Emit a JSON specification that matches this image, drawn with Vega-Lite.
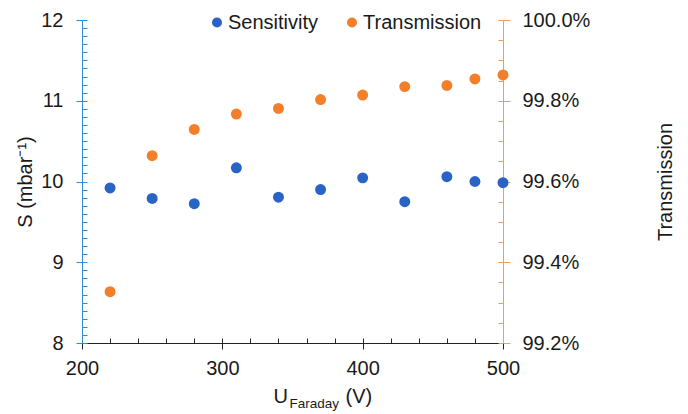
{
  "$schema": "https://vega.github.io/schema/vega-lite/v6.json",
  "autosize": {"type": "none"},
  "width": 421,
  "height": 323,
  "padding": {"left": 82, "top": 20, "right": 185, "bottom": 71},
  "background": "white",
  "config": {
    "font": "Liberation Sans",
    "view": {"stroke": null},
    "axis": {"grid": false, "labelFlush": false, "labelOverlap": false, "labelFontSize": 20, "labelColor": "#1a1a1a", "titleColor": "#1a1a1a", "titleFontWeight": "normal", "titleFontSize": 20, "labelFont": "Liberation Sans", "titleFont": "Liberation Sans"},
    "legend": {"labelFont": "Liberation Sans"}
  },
  "data": {
    "values": [
      {"U": 220, "S": 9.92, "T": 0.99327},
      {"U": 250, "S": 9.79, "T": 0.99664},
      {"U": 280, "S": 9.725, "T": 0.99729},
      {"U": 310, "S": 10.17, "T": 0.99767},
      {"U": 340, "S": 9.805, "T": 0.99781},
      {"U": 370, "S": 9.9, "T": 0.99803},
      {"U": 400, "S": 10.045, "T": 0.99814},
      {"U": 430, "S": 9.75, "T": 0.99835},
      {"U": 460, "S": 10.06, "T": 0.99838},
      {"U": 480, "S": 10.0, "T": 0.99854},
      {"U": 500, "S": 9.985, "T": 0.99864}
    ]
  },
  "layer": [
    {
      "mark": {"type": "point", "opacity": 0},
      "encoding": {
        "x": {"field": "U", "type": "quantitative", "scale": {"domain": [200, 500], "nice": false, "zero": false},
          "axis": {"orient": "bottom", "values": [200,220,240,260,280,300,320,340,360,380,400,420,440,460,480,500], "tickSize": -5, "tickColor": "#222", "labels": false, "domain": false,
            "title": "(V)", "titleX": 263, "titleY": 59, "titleAlign": "left", "titleBaseline": "alphabetic", "titleAnchor": null}},
        "y": {"field": "S", "type": "quantitative", "scale": {"domain": [8, 12], "nice": false, "zero": false},
          "axis": {"orient": "left", "values": [8,8.1,8.2,8.3,8.4,8.5,8.6,8.7,8.8,8.9,9,9.1,9.2,9.3,9.4,9.5,9.6,9.7,9.8,9.9,10,10.1,10.2,10.3,10.4,10.5,10.6,10.7,10.8,10.9,11,11.1,11.2,11.3,11.4,11.5,11.6,11.7,11.8,11.9,12], "tickSize": -5, "tickColor": "#2b8de0", "labels": false, "domain": false, "title": null}}
      }
    },
    {
      "mark": {"type": "point", "opacity": 0},
      "encoding": {
        "x": {"field": "U", "type": "quantitative", "scale": {"domain": [200, 500], "nice": false, "zero": false}, "axis": null},
        "y": {"field": "T", "type": "quantitative", "scale": {"domain": [0.992, 1.0], "nice": false, "zero": false},
          "axis": {"orient": "right", "values": [0.992,0.9925,0.993,0.9935,0.994,0.9945,0.995,0.9955,0.996,0.9965,0.997,0.9975,0.998,0.9985,0.999,0.9995,1.0], "tickSize": -5, "tickColor": "#f59b52", "labels": false, "domain": false, "title": null}}
      }
    },
    {
      "mark": {"type": "point", "filled": true, "size": 120, "opacity": 1},
      "encoding": {
        "x": {"field": "U", "type": "quantitative", "scale": {"domain": [200, 500], "nice": false, "zero": false},
          "axis": {"orient": "bottom", "values": [200, 300, 400, 500], "tickSize": 6, "tickColor": "#222", "domain": true, "domainColor": "#222", "domainWidth": 1, "labelPadding": 9,
            "title": "U", "titleX": 191, "titleY": 59, "titleAlign": "left", "titleBaseline": "alphabetic", "titleAnchor": null}},
        "y": {"field": "S", "type": "quantitative", "scale": {"domain": [8, 12], "nice": false, "zero": false},
          "axis": {"orient": "left", "values": [8, 9, 10, 11, 12], "tickSize": 6, "tickColor": "#2b8de0", "domainColor": "#2b8de0", "labelPadding": 13,
            "title": "S (mbar⁻¹)", "titleAngle": -90, "titleX": -57, "titleY": 161.5, "titleAlign": "center", "titleBaseline": "middle", "titleAnchor": null}},
        "color": {"datum": "Sensitivity", "type": "nominal",
          "scale": {"domain": ["Sensitivity", "Transmission"], "range": ["#2a63c6", "#f47f2a"]},
          "legend": {"orient": "none", "legendX": 125, "legendY": -7.5, "direction": "horizontal", "title": null, "labelFontSize": 20, "labelColor": "#1a1a1a",
            "symbolType": "circle", "symbolSize": 100, "symbolOpacity": 1, "symbolStrokeWidth": 0, "labelOffset": 1, "columnPadding": 23}}
      }
    },
    {
      "mark": {"type": "point", "filled": true, "size": 120, "opacity": 1},
      "encoding": {
        "x": {"field": "U", "type": "quantitative", "scale": {"domain": [200, 500], "nice": false, "zero": false},
          "axis": {"orient": "bottom", "labels": false, "ticks": false, "domain": false,
            "title": "Faraday", "titleFontSize": 13.5, "titleX": 207, "titleY": 64, "titleAlign": "left", "titleBaseline": "alphabetic", "titleAnchor": null}},
        "y": {"field": "T", "type": "quantitative", "scale": {"domain": [0.992, 1.0], "nice": false, "zero": false},
          "axis": {"orient": "right", "values": [0.992, 0.994, 0.996, 0.998, 1.0], "format": ".1%", "tickSize": 7, "tickColor": "#f59b52", "domainColor": "#f59b52", "labelPadding": 12,
            "title": "Transmission", "titleAngle": -90, "titleX": 162.5, "titleY": 161.5, "titleAlign": "center", "titleBaseline": "middle", "titleAnchor": null}},
        "color": {"datum": "Transmission", "type": "nominal"}
      }
    }
  ],
  "resolve": {"scale": {"x": "independent", "y": "independent"}, "axis": {"x": "independent", "y": "independent"}}
}
